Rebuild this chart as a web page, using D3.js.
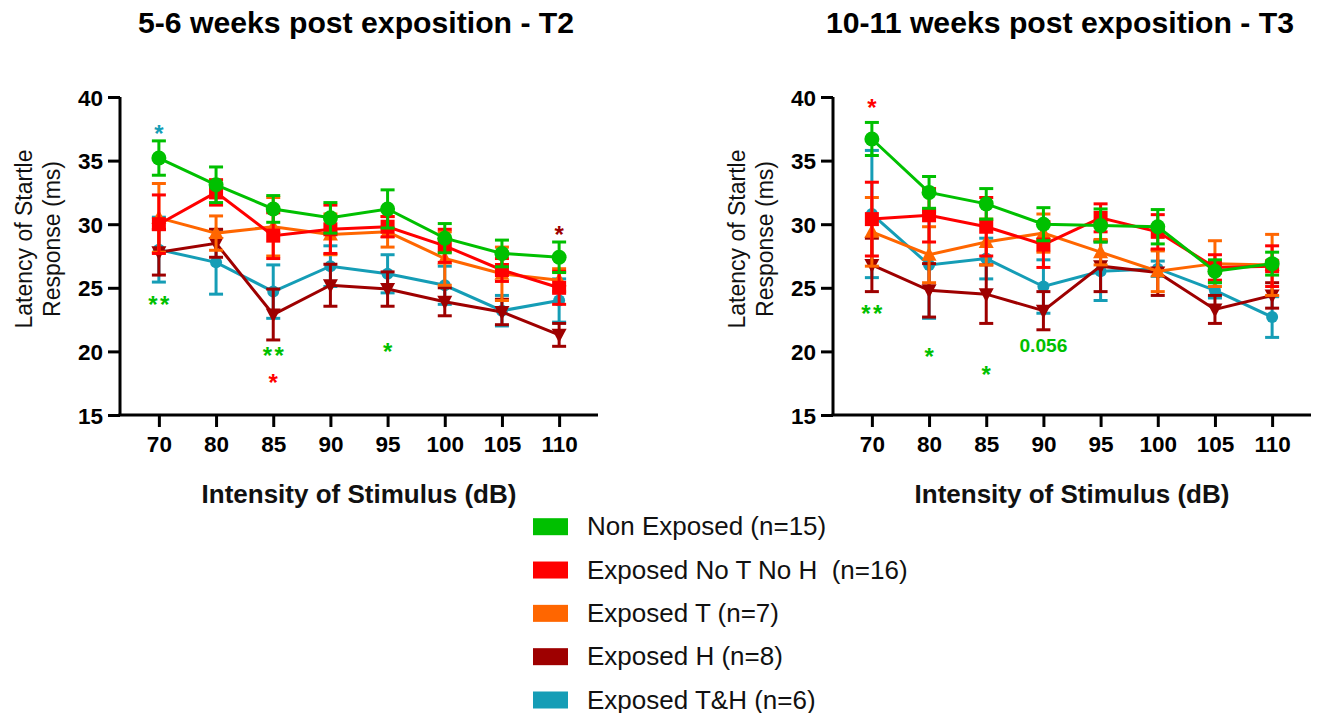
<!DOCTYPE html>
<html>
<head>
<meta charset="utf-8">
<script src="https://cdn.jsdelivr.net/npm/d3@7"></script>
<style>
  html, body { margin: 0; padding: 0; background: #fff; }
  svg { display: block; font-family: Arial, "Liberation Sans", sans-serif; }
</style>
</head>
<body>
<svg id="chart" width="1322" height="713"></svg>
<script>
// ---------- DATA ----------
const categories = ["70", "80", "85", "90", "95", "100", "105", "110"];
const yTicks = [15, 20, 25, 30, 35, 40];

const groupNames = ["Non Exposed (n=15)", "Exposed No T No H  (n=16)", "Exposed T (n=7)", "Exposed H (n=8)", "Exposed T&H (n=6)"];
const groupColors = ["#00C000", "#FF0000", "#FF6600", "#9E0000", "#159DB6"];
const groupShapes = ["circle", "square", "triangleUp", "triangleDown", "smallCircle"];

// T2 (5-6 weeks) means and SEM
const nonExposedT2 = [35.2, 33.1, 31.2, 30.5, 31.2, 28.9, 27.7, 27.4];
const nonExposedT2Err = [1.35, 1.4, 1.05, 1.2, 1.5, 1.15, 1.05, 1.2];
const exposedNoTNoHT2 = [30.0, 32.5, 29.1, 29.6, 29.8, 28.3, 26.4, 25.0];
const exposedNoTNoHT2Err = [2.3, 1.0, 1.8, 1.9, 0.8, 1.3, 0.9, 1.3];
const exposedTT2 = [30.5, 29.3, 29.8, 29.2, 29.4, 27.3, 26.1, 25.6];
const exposedTT2Err = [2.7, 1.35, 2.3, 1.6, 1.2, 2.1, 2.1, 0.9];
const exposedHT2 = [27.8, 28.5, 22.9, 25.2, 24.9, 23.9, 23.1, 21.3];
const exposedHT2Err = [1.8, 1.1, 2.0, 1.65, 1.35, 1.1, 1.0, 0.9];
const exposedTHT2 = [28.0, 27.0, 24.7, 26.7, 26.1, 25.2, 23.2, 24.0];
const exposedTHT2Err = [2.55, 2.5, 2.1, 1.6, 1.5, 1.5, 1.2, 1.7];

// T3 (10-11 weeks) means and SEM
const nonExposedT3 = [36.7, 32.5, 31.6, 30.0, 29.9, 29.8, 26.3, 26.9];
const nonExposedT3Err = [1.3, 1.25, 1.2, 1.3, 1.3, 1.35, 0.9, 0.9];
const exposedNoTNoHT3 = [30.4, 30.7, 29.8, 28.4, 30.5, 29.4, 26.6, 26.7];
const exposedNoTNoHT3Err = [2.9, 2.1, 2.3, 1.8, 1.1, 1.35, 1.0, 1.6];
const exposedTT3 = [29.4, 27.6, 28.6, 29.3, 27.8, 26.3, 26.9, 26.8];
const exposedTT3Err = [2.7, 2.2, 1.8, 1.5, 1.0, 1.6, 1.8, 2.4];
const exposedHT3 = [26.8, 24.8, 24.5, 23.2, 26.7, 26.2, 23.3, 24.4];
const exposedHT3Err = [2.1, 2.1, 2.3, 1.5, 2.0, 1.8, 1.1, 1.0];
const exposedTHT3 = [30.8, 26.8, 27.3, 25.1, 26.3, 26.5, 24.8, 22.7];
const exposedTHT3Err = [5.0, 4.2, 1.6, 2.1, 2.3, 0.6, 0.6, 1.6];

// significance annotations: [category, value (centre), text, group index]
const annotationsT2 = [
  ["70", 37.5, "*", 4], ["70", 24.1, "**", 0],
  ["85", 20.08, "**", 0], ["85", 17.92, "*", 1],
  ["95", 20.4, "*", 0], ["110", 29.6, "*", 3]
];
const annotationsT3 = [
  ["70", 39.55, "*", 1], ["70", 23.4, "**", 0],
  ["80", 20.0, "*", 0], ["85", 18.6, "*", 0],
  ["90", 20.5, "0.056", 0]
];

const titles = ["5-6 weeks post exposition - T2", "10-11 weeks post exposition - T3"];
const yLabelLines = ["Latency of Startle", "Response (ms)"];
const xLabel = "Intensity of Stimulus (dB)";

// ---------- LAYOUT ----------
const svg = d3.select("#chart");
const plotTop = 97, plotBottom = 415, plotWidth = 478;
const panels = [
  { left: 120, titleX: 356,
    series: [[nonExposedT2, nonExposedT2Err], [exposedNoTNoHT2, exposedNoTNoHT2Err], [exposedTT2, exposedTT2Err], [exposedHT2, exposedHT2Err], [exposedTHT2, exposedTHT2Err]],
    annotations: annotationsT2, title: titles[0] },
  { left: 833, titleX: 1060,
    series: [[nonExposedT3, nonExposedT3Err], [exposedNoTNoHT3, exposedNoTNoHT3Err], [exposedTT3, exposedTT3Err], [exposedHT3, exposedHT3Err], [exposedTHT3, exposedTHT3Err]],
    annotations: annotationsT3, title: titles[1] }
];

const y = d3.scaleLinear().domain([15, 40]).range([plotBottom, plotTop]);
const drawOrder = [4, 3, 2, 1, 0];

function drawMarker(g, shape, cx, cy, color) {
  if (shape === "circle") {
    g.append("circle").attr("cx", cx).attr("cy", cy).attr("r", 7.5).attr("fill", color);
  } else if (shape === "smallCircle") {
    g.append("circle").attr("cx", cx).attr("cy", cy).attr("r", 6).attr("fill", color);
  } else if (shape === "square") {
    g.append("rect").attr("x", cx - 7).attr("y", cy - 7).attr("width", 14).attr("height", 14).attr("fill", color);
  } else if (shape === "triangleUp") {
    g.append("path").attr("d", `M${cx},${cy - 8}L${cx + 7.5},${cy + 6}L${cx - 7.5},${cy + 6}Z`).attr("fill", color);
  } else {
    g.append("path").attr("d", `M${cx},${cy + 8}L${cx + 7.5},${cy - 6}L${cx - 7.5},${cy - 6}Z`).attr("fill", color);
  }
}

panels.forEach(p => {
  const x = d3.scalePoint().domain(categories).range([p.left, p.left + plotWidth]).padding(0.68);
  const g = svg.append("g");

  // title
  svg.append("text").attr("x", p.titleX).attr("y", 33).attr("text-anchor", "middle")
    .attr("font-size", 30.2).attr("font-weight", "bold").attr("fill", "#000").text(p.title);

  // axes
  const yAxis = g.append("g").attr("transform", `translate(${p.left},0)`)
    .call(d3.axisLeft(y).tickValues(yTicks).tickSize(12).tickPadding(5));
  const xAxis = g.append("g").attr("transform", `translate(0,${plotBottom})`)
    .call(d3.axisBottom(x).tickSize(12).tickPadding(9));
  [yAxis, xAxis].forEach(a => {
    a.attr("font-size", 22.5).attr("font-family", "Arial, 'Liberation Sans', sans-serif");
    a.select(".domain").attr("stroke", "#000").attr("stroke-width", 3);
    a.selectAll(".tick line").attr("stroke", "#000").attr("stroke-width", 3);
    a.selectAll(".tick text").attr("font-size", 22.5).attr("font-weight", "bold").attr("fill", "#000");
  });
  yAxis.select(".domain").attr("d", `M0,${plotTop}V${plotBottom}`);
  xAxis.select(".domain").attr("d", `M${p.left - 1.5},0H${p.left + plotWidth}`);
  yAxis.selectAll(".tick text").attr("dy", "0.36em");

  // axis labels
  const labelCenterY = 239;
  [88, 60].forEach((off, i) => {
    svg.append("text")
      .attr("transform", `translate(${p.left - off},${labelCenterY}) rotate(-90)`)
      .attr("text-anchor", "middle").attr("font-size", 23).attr("fill", "#111")
      .text(yLabelLines[i]);
  });
  svg.append("text").attr("x", p.left + plotWidth / 2).attr("y", 503).attr("text-anchor", "middle")
    .attr("font-size", 26).attr("font-weight", "bold").attr("fill", "#111").text(xLabel);

  // series
  drawOrder.forEach(gi => {
    const [vals, errs] = p.series[gi];
    const color = groupColors[gi];
    const sg = g.append("g");
    const line = d3.line().x((d, i) => x(categories[i])).y(d => y(d));
    sg.append("path").datum(vals).attr("d", line).attr("fill", "none")
      .attr("stroke", color).attr("stroke-width", 3);
    vals.forEach((v, i) => {
      const cx = x(categories[i]);
      const hi = y(v + errs[i]), lo = y(v - errs[i]);
      sg.append("line").attr("x1", cx).attr("x2", cx).attr("y1", hi).attr("y2", lo)
        .attr("stroke", color).attr("stroke-width", 3);
      [hi, lo].forEach(yy => sg.append("line").attr("x1", cx - 7).attr("x2", cx + 7)
        .attr("y1", yy).attr("y2", yy).attr("stroke", color).attr("stroke-width", 3));
    });
    vals.forEach((v, i) => drawMarker(sg, groupShapes[gi], x(categories[i]), y(v), color));
  });

  // annotations
  p.annotations.forEach(([cat, v, txt, gi]) => {
    const isStar = txt.indexOf("*") >= 0;
    const t = svg.append("text").attr("x", x(cat) + (isStar && txt.length > 1 ? 1.2 : 0))
      .attr("text-anchor", "middle").attr("font-weight", "bold")
      .attr("fill", groupColors[gi]).text(txt);
    if (isStar) {
      t.attr("y", y(v) + 13.5).attr("font-size", 24).attr("letter-spacing", txt.length > 1 ? 2.4 : 0);
    } else {
      t.attr("y", y(v) + 7).attr("font-size", 19.2);
    }
  });
});

// ---------- LEGEND ----------
const legend = svg.append("g");
const rowY = d3.scalePoint().domain(groupNames).range([526.7, 700]);
groupNames.forEach((name, i) => {
  legend.append("rect").attr("x", 533).attr("y", rowY(name) - 8.5).attr("width", 35).attr("height", 17)
    .attr("fill", groupColors[i]);
  legend.append("text").attr("x", 587).attr("y", rowY(name) + 8.5).attr("font-size", 26)
    .attr("fill", "#111").style("white-space", "pre").text(name);
});
</script>
</body>
</html>
